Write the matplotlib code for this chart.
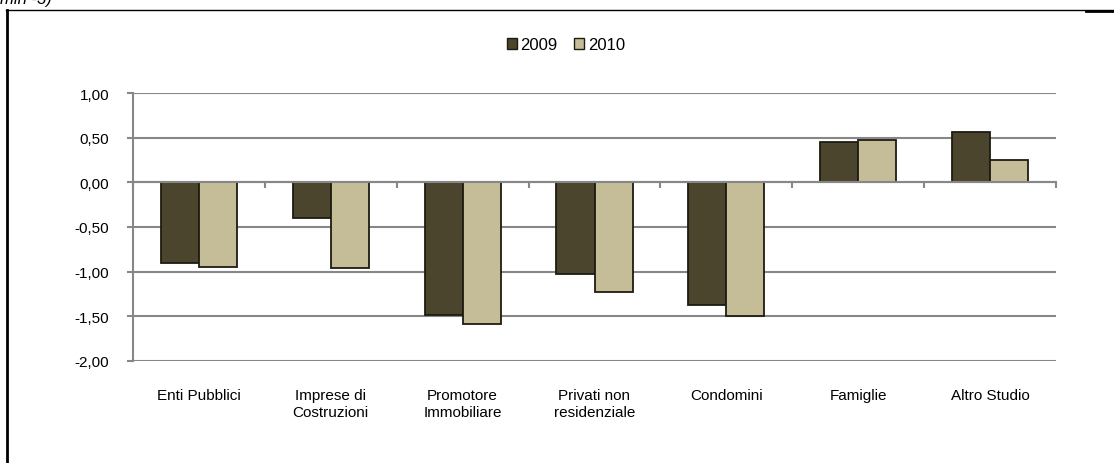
import numpy as np
import matplotlib
matplotlib.use("Agg")
import matplotlib.pyplot as plt
import matplotlib.transforms as mtransforms
from matplotlib.lines import Line2D
from matplotlib.patches import Patch
from matplotlib.ticker import FixedLocator, FuncFormatter

plt.rcParams['font.family'] = ['Liberation Sans', 'DejaVu Sans']

categorie = ["Enti Pubblici", "Imprese di\nCostruzioni", "Promotore\nImmobiliare",
             "Privati non\nresidenziale", "Condomini", "Famiglie", "Altro Studio"]
anni = ["2009", "2010"]
valori_2009 = [-0.90, -0.40, -1.48, -1.03, -1.37, 0.45, 0.56]
valori_2010 = [-0.95, -0.96, -1.59, -1.23, -1.50, 0.47, 0.25]
y_ticks = [1.0, 0.5, 0.0, -0.5, -1.0, -1.5, -2.0]

col_scuro = "#4a452c"
col_chiaro = "#c4bd97"
grigio = "#878787"

fig = plt.figure(figsize=(11.14, 4.64), dpi=100)
ax = fig.add_axes([133 / 1114, 1 - 362 / 464, (1056 - 133) / 1114, 268 / 464])

x = np.arange(len(categorie))
w = 0.289
ax.bar(x - w / 2, valori_2009, w, color=col_scuro, edgecolor="#1c1c12", linewidth=1.3, zorder=3)
ax.bar(x + w / 2, valori_2010, w, color=col_chiaro, edgecolor="#1c1c12", linewidth=1.3, zorder=3)

ax.set_xlim(-0.5, len(categorie) - 0.5)
ax.set_ylim(-2, 1)

for yv in y_ticks:
    ax.axhline(yv, color=grigio, lw=1.5, zorder=1)

for s in ["top", "right"]:
    ax.spines[s].set_visible(False)
ax.spines["left"].set_color(grigio)
ax.spines["left"].set_linewidth(1.5)
ax.spines["bottom"].set_position(("data", 0))
ax.spines["bottom"].set_color(grigio)
ax.spines["bottom"].set_linewidth(1.5)
ax.spines["bottom"].set_zorder(4)

ax.yaxis.set_major_locator(FixedLocator(y_ticks))
ax.yaxis.set_major_formatter(FuncFormatter(lambda v, p: f"{v:.2f}".replace(".", ",")))
ax.tick_params(axis="y", direction="out", length=4, width=1.5, color=grigio, pad=13,
               labelsize=11, labelcolor="black")

ax.set_xticks(x)
ax.set_xticklabels(categorie)
ax.set_xticks(np.arange(-0.5, len(categorie)), minor=True)
ax.tick_params(axis="x", which="major", length=0, labelsize=11, pad=0)
ax.tick_params(axis="x", which="minor", direction="out", length=4, width=1.5, color=grigio)
# etichette sotto il grafico, non sotto l'asse dello zero
offset = mtransforms.ScaledTranslation(0, -(390 - 184) / 100, fig.dpi_scale_trans)
for lbl in ax.get_xticklabels():
    lbl.set_verticalalignment("top")
    lbl.set_linespacing(1.2)
    lbl.set_transform(lbl.get_transform() + offset)

handles = [Patch(facecolor=col_scuro, edgecolor="#1c1c12", linewidth=1),
           Patch(facecolor=col_chiaro, edgecolor="#1c1c12", linewidth=1)]
fig.legend(handles, anni, loc="center", bbox_to_anchor=(566 / 1114, 1 - 46 / 464), ncol=2,
           frameon=False, fontsize=12, handlelength=0.6, handleheight=0.6,
           handletextpad=0.2, columnspacing=1.0)

# cornice del riquadro
fig.add_artist(Line2D([6.5 / 1114, 6.5 / 1114], [0, 1 - 11 / 464], color="black", lw=2,
                      transform=fig.transFigure))
fig.add_artist(Line2D([6 / 1114, 1], [1 - 11 / 464, 1 - 11 / 464], color="black", lw=1,
                      transform=fig.transFigure))
fig.add_artist(Line2D([1086 / 1114, 1], [1 - 11.5 / 464, 1 - 11.5 / 464], color="black", lw=2,
                      transform=fig.transFigure))

fig.text(0.0, 1 - 4 / 464, "min -3)", style="italic", fontsize=12, va="baseline", ha="left")

fig.savefig("out.png", dpi=100)
